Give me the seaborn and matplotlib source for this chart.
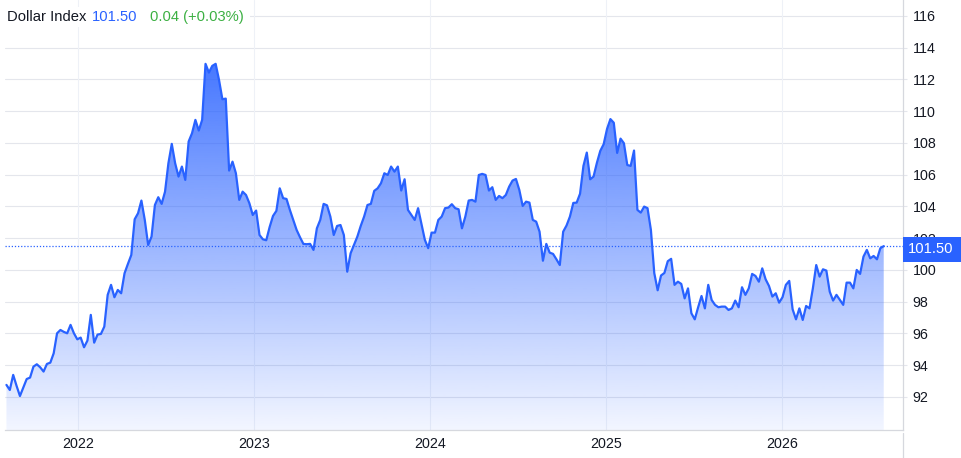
import numpy as np
import pandas as pd
import matplotlib
matplotlib.use("Agg")
import matplotlib.pyplot as plt
import matplotlib.dates as mdates
from matplotlib.patches import Rectangle
from matplotlib.lines import Line2D
import seaborn as sns

# ---------------- data ----------------
start_date = "2021-08-06"          # weekly closes (Fridays)
values = [
    92.76, 92.44, 93.39, 92.70, 92.06, 92.60, 93.13, 93.22, 93.91, 94.06,
    93.87, 93.60, 94.08, 94.16, 94.75, 96.01, 96.22, 96.10, 96.01, 96.54,
    96.01, 95.63, 95.74, 95.13, 95.55, 97.17, 95.42, 95.93, 95.97, 96.43,
    98.43, 99.06, 98.28, 98.74, 98.53, 99.79, 100.38, 100.94, 103.19, 103.57,
    104.37, 103.15, 101.57, 102.10, 104.09, 104.58, 104.16, 104.93, 106.72, 107.94,
    106.72, 105.88, 106.51, 105.67, 108.09, 108.61, 109.45, 108.78, 109.45, 112.98,
    112.43, 112.85, 112.98, 111.97, 110.75, 110.79, 106.26, 106.82, 106.09, 104.41,
    104.93, 104.72, 104.20, 103.46, 103.74, 102.20, 101.93, 101.87, 102.70, 103.40,
    103.72, 105.14, 104.52, 104.47, 103.78, 103.15, 102.52, 102.06, 101.64, 101.62,
    101.64, 101.26, 102.62, 103.15, 104.16, 104.07, 103.36, 102.20, 102.77, 102.83,
    102.20, 99.89, 101.05, 101.57, 102.10, 102.77, 103.36, 104.09, 104.16, 104.98,
    105.14, 105.46, 106.09, 105.98, 106.51, 106.19, 106.51, 105.00, 105.71, 103.78,
    103.46, 103.15, 103.89, 102.90, 101.90, 101.37, 102.35, 102.35, 103.15, 103.36,
    103.89, 103.93, 104.14, 103.89, 103.82, 102.62, 103.36, 104.37, 104.41, 104.30,
    105.98, 106.05, 105.98, 105.00, 105.21, 104.41, 104.66, 104.52, 104.72, 105.25,
    105.63, 105.73, 105.04, 104.03, 104.30, 104.24, 103.15, 103.04, 102.41, 100.58,
    101.64, 101.09, 101.01, 100.67, 100.31, 102.41, 102.80, 103.36, 104.22, 104.24,
    104.80, 106.55, 107.39, 105.71, 105.88, 106.75, 107.50, 107.92, 108.88, 109.50,
    109.27, 107.37, 108.27, 107.98, 106.61, 106.55, 107.52, 103.78, 103.61, 103.99,
    103.89, 102.52, 99.80, 98.72, 99.65, 99.81, 100.55, 100.70, 99.06, 99.26,
    99.12, 98.21, 98.84, 97.27, 96.89, 97.65, 98.36, 97.58, 99.06, 98.11,
    97.80, 97.65, 97.69, 97.69, 97.48, 97.58, 98.07, 97.65, 98.91, 98.43,
    98.84, 99.75, 99.62, 99.26, 100.10, 99.41, 98.99, 98.32, 98.53, 97.94,
    98.28, 99.06, 99.31, 97.52, 96.89, 97.58, 96.85, 97.73, 97.58, 98.84,
    100.31, 99.58, 100.04, 99.96, 98.63, 98.07, 98.43, 98.11, 97.80, 99.20,
    99.20, 98.84, 100.00, 99.75, 100.84, 101.26, 100.73, 100.88, 100.67, 101.37,
    101.50,
]
year_labels = ["2022", "2023", "2024", "2025", "2026"]
y_ticks = [92, 94, 96, 98, 100, 102, 104, 106, 108, 110, 112, 114, 116]
title_name = "Dollar Index"
last_price = "101.50"
last_value = 101.50
change_text = "0.04 (+0.03%)"

# ---------------- styling ----------------
BLUE = "#2962ff"
GRID = "#e4e6ec"
VGRID = "#eef1f7"
TXT = "#131722"
GREEN = "#3cb043"

sns.set_style("white")
plt.rcParams["font.family"] = ["Liberation Sans", "DejaVu Sans"]

W, H = 961, 458
fig = plt.figure(figsize=(W / 100, H / 100), dpi=100)
ax_left, ax_right, ax_bottom_px, ax_top_px = 5, 903, 430, 0
ax = fig.add_axes([ax_left / W, 1 - ax_bottom_px / H,
                   (ax_right - ax_left) / W, (ax_bottom_px - ax_top_px) / H])

dates = pd.date_range(start_date, periods=len(values), freq="W-FRI")
df = pd.DataFrame({"date": dates, "value": values})

ymin, ymax = 89.92, 117.0
x0 = dates[0] - pd.Timedelta(days=3)
x1 = pd.Timestamp("2026-09-09")
ax.set_xlim(x0, x1)
ax.set_ylim(ymin, ymax)

# gradient fill under the line
xn = mdates.date2num(df["date"])
rgba = np.zeros((256, 1, 4))
rgba[..., 0] = 0x29 / 255
rgba[..., 1] = 0x62 / 255
rgba[..., 2] = 1.0
rgba[:, 0, 3] = np.linspace(1.0, 0.06, 256)
im = ax.imshow(rgba, extent=[mdates.date2num(x0), mdates.date2num(x1), ymin, ymax],
               aspect="auto", origin="upper", zorder=1, interpolation="bilinear")
poly = ax.fill_between(xn, df["value"], ymin, color="none", lw=0)
im.set_clip_path(poly.get_paths()[0], transform=ax.transData)

sns.lineplot(data=df, x="date", y="value", ax=ax, color=BLUE, lw=1.6, zorder=3)

# last price dotted line
ax.axhline(last_value, color=BLUE, lw=0.9, ls=(0, (1, 1.5)), zorder=2)

# grid
for v in y_ticks:
    ax.axhline(v, color=GRID, lw=0.8, zorder=0)
for y in year_labels:
    ax.axvline(pd.Timestamp(f"{y}-01-01"), color=VGRID, lw=0.8, zorder=0)

ax.set_xlabel("")
ax.set_ylabel("")
ax.yaxis.tick_right()
ax.set_yticks(y_ticks)
ax.set_yticklabels([str(v) for v in y_ticks])
ax.set_xticks([pd.Timestamp(f"{y}-01-01") for y in year_labels])
ax.set_xticklabels(year_labels)
ax.tick_params(axis="y", which="both", length=3, width=0.8, color=GRID,
               pad=4, labelsize=10.3, labelcolor=TXT, right=True, left=False)
ax.tick_params(axis="x", length=0, pad=5, labelsize=10.3, labelcolor=TXT)

for s in ["top", "left"]:
    ax.spines[s].set_visible(False)
ax.spines["right"].set_color("#d6d8de")
ax.spines["right"].set_linewidth(0.9)
ax.spines["bottom"].set_color("#d6d8de")
ax.spines["bottom"].set_linewidth(0.9)

# continuation of right axis line below the plot
fig.add_artist(Line2D([ax_right / W, ax_right / W], [0, 1 - 433 / H],
                      transform=fig.transFigure, color="#d6d8de", lw=0.9))

# white backing behind the title, hiding the top gridline
fig.add_artist(Rectangle((ax_left / W, 1 - 27 / H), 245 / W, 20 / H,
                         transform=fig.transFigure, facecolor="white",
                         edgecolor="none", zorder=5))
ty = 1 - 17 / H
fig.text(7 / W, ty, title_name, color=TXT, fontsize=10.6, va="center", zorder=6)
fig.text(92 / W, ty, last_price, color=BLUE, fontsize=10.6, va="center", zorder=6)
fig.text(150 / W, ty, change_text, color=GREEN, fontsize=10.6, va="center", zorder=6)

# last price label box on the right axis
fig.add_artist(Rectangle((ax_right / W, 1 - 262 / H), (W - ax_right) / W, 25 / H,
                         transform=fig.transFigure, facecolor=BLUE,
                         edgecolor="none", zorder=5))
fig.text(908 / W, 1 - 249.5 / H, last_price, color="white", fontsize=10.6,
         va="center", ha="left", zorder=6)

fig.savefig("out.png", dpi=100)
